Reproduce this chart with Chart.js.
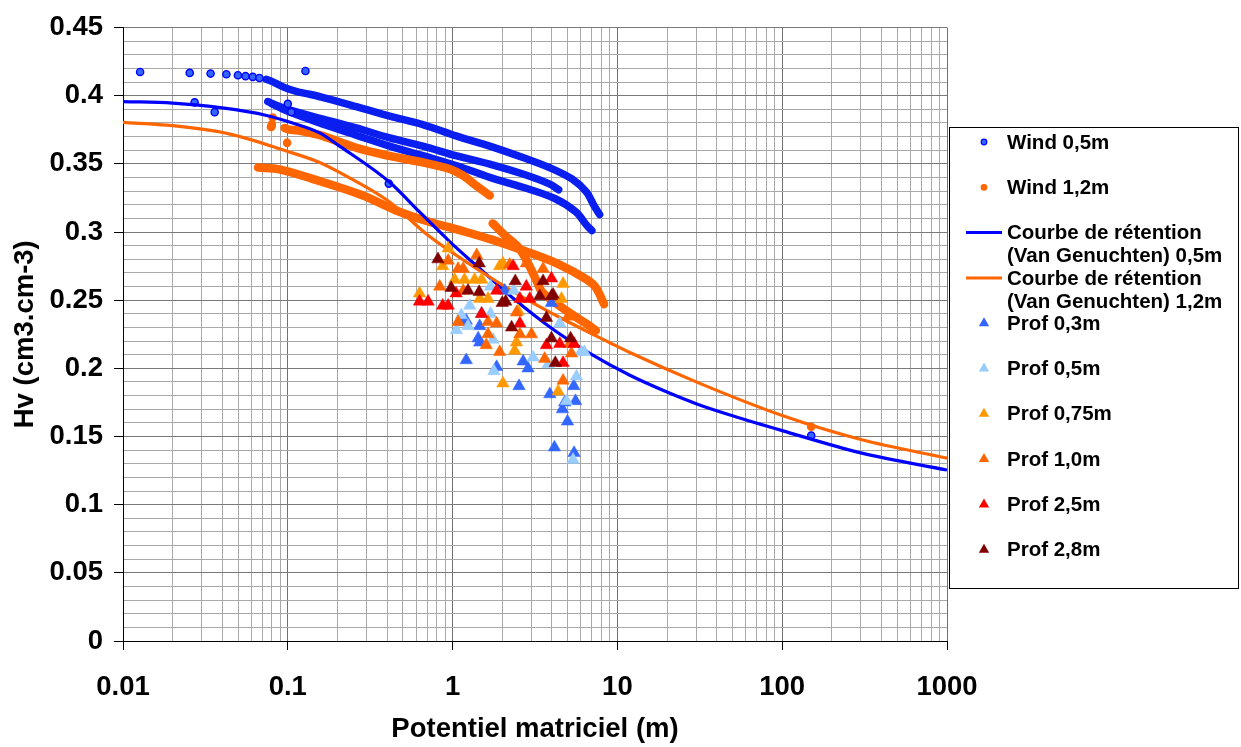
<!DOCTYPE html>
<html lang="fr">
<head>
<meta charset="utf-8">
<title>Courbes de rétention</title>
<script src="https://cdn.jsdelivr.net/npm/chart.js@4.4.1/dist/chart.umd.min.js"></script>
<style>
  html, body { margin: 0; padding: 0; background: #fff; }
  #wrap { width: 1241px; height: 747px; }
</style>
</head>
<body>
<div id="wrap"><canvas id="retentionChart" width="1241" height="747"></canvas></div>
<script>
/* Retention curves — measured points vs Van Genuchten fits */

// ── Axes ───────────────────────────────────────────────────────
const xTickValues = [0.01, 0.1, 1, 10, 100, 1000];
const xTickLabels = ['0.01', '0.1', '1', '10', '100', '1000'];
const yTickValues = [0, 0.05, 0.1, 0.15, 0.2, 0.25, 0.3, 0.35, 0.4, 0.45];
const yTickLabels = ['0', '0.05', '0.1', '0.15', '0.2', '0.25', '0.3', '0.35', '0.4', '0.45'];

// ── Wind 0,5m (potential m, Hv) ────────────────────────────────
const wind05Loose = [
  [0.0127, 0.4174], [0.0254, 0.4167], [0.034, 0.4162], [0.0424, 0.4157], [0.0498, 0.415],
  [0.0554, 0.4143], [0.0613, 0.4138], [0.0673, 0.413], [0.128, 0.4181], [0.0272, 0.3951],
  [0.036, 0.3879], [0.1, 0.394], [0.105, 0.388], [0.41, 0.3355], [150, 0.1507],
];
const wind05A = [
  [0.074, 0.412], [0.08, 0.4105], [0.089, 0.4077], [0.1, 0.405], [0.115, 0.4028], [0.13, 0.4015],
  [0.16, 0.399], [0.26, 0.392], [0.415, 0.385], [0.66, 0.3788], [1.06, 0.3703], [1.68, 0.363],
  [2.67, 0.3546], [3.86, 0.3473], [5.3, 0.3389], [6.5, 0.3292], [7.2, 0.3196], [7.8, 0.3128],
];
const wind05B = [
  [0.0756, 0.3957], [0.085, 0.393], [0.102, 0.3896], [0.164, 0.3828], [0.26, 0.3763], [0.415, 0.369],
  [0.66, 0.363], [1.06, 0.3558], [1.68, 0.3498], [2.67, 0.3425], [3.86, 0.3353], [4.4, 0.331],
];
const wind05C = [
  [0.08, 0.394], [0.1, 0.3885], [0.164, 0.379], [0.26, 0.371], [0.415, 0.363], [0.66, 0.356],
  [1.06, 0.3486], [1.68, 0.3401], [2.67, 0.3328], [4.2, 0.3244], [5.6, 0.3147], [6.5, 0.305], [7.0, 0.301],
];

// ── Wind 1,2m ──────────────────────────────────────────────────
const wind12Loose = [
  [0.081, 0.384], [0.0797, 0.3775], [0.08, 0.379], [0.079, 0.377], [0.099, 0.3654], [150, 0.1572],
];
const wind12D = [
  [0.0955, 0.3763], [0.102, 0.3751], [0.112, 0.3746], [0.123, 0.3739], [0.142, 0.3722], [0.164, 0.3703],
  [0.26, 0.3618], [0.415, 0.3558], [0.66, 0.351], [0.96, 0.3462], [1.16, 0.3413], [1.39, 0.334], [1.68, 0.3268],
];
const wind12E = [
  [0.066, 0.3473], [0.089, 0.346], [0.141, 0.339], [0.283, 0.327], [0.45, 0.316], [0.72, 0.3075],
  [1.1, 0.3014], [1.75, 0.2942], [2.79, 0.2857], [4.45, 0.2761], [6.5, 0.2652], [7.4, 0.2592], [8.3, 0.2471],
];
const wind12F = [
  [1.75, 0.3063], [2.1, 0.297], [2.52, 0.2884], [2.9, 0.276], [3.24, 0.2638], [3.5, 0.2558],
  [4.91, 0.2422], [6.5, 0.2326], [7.4, 0.2278],
];

// ── Van Genuchten fits ─────────────────────────────────────────
const vg05 = [
  [0.01, 0.3957], [0.02, 0.3945], [0.04, 0.391], [0.0744, 0.3855], [0.1, 0.381], [0.156, 0.3727],
  [0.206, 0.363], [0.415, 0.3365], [0.63, 0.3147], [0.96, 0.293], [1.53, 0.271], [2.3, 0.252],
  [4.27, 0.2268], [6.8, 0.2109], [11.9, 0.1949], [20, 0.1826], [30.3, 0.1739], [50, 0.1652],
  [100, 0.1543], [300, 0.138], [1000, 0.1254],
];
const vg12 = [
  [0.01, 0.3804], [0.02, 0.378], [0.044, 0.372], [0.098, 0.3594], [0.156, 0.351], [0.206, 0.3437],
  [0.415, 0.322], [0.706, 0.2978], [1.52, 0.2703], [2.55, 0.2536], [4.66, 0.2362], [9.0, 0.2188],
  [11.9, 0.2116], [30.3, 0.1899], [101, 0.1652], [300, 0.1478], [1000, 0.1341],
];

// ── Field probes ───────────────────────────────────────────────
const prof03 = [
  [1.12, 0.234], [1.21, 0.235], [1.21, 0.206], [1.43, 0.222], [1.46, 0.231], [1.5, 0.24], [1.46, 0.219],
  [1.85, 0.201], [2.07, 0.257], [2.53, 0.187], [2.68, 0.205], [2.87, 0.2], [3.89, 0.181], [3.98, 0.248],
  [4.15, 0.142], [4.64, 0.17], [4.79, 0.175], [4.98, 0.161], [5.44, 0.187], [5.46, 0.138], [5.57, 0.176],
];
const prof05 = [
  [1.055, 0.228], [1.13, 0.239], [1.27, 0.246], [1.24, 0.231], [1.7, 0.26], [1.7, 0.24], [1.76, 0.221],
  [1.78, 0.198], [2.35, 0.257], [3.08, 0.208], [3.8, 0.203], [4.47, 0.233], [4.91, 0.176], [5.65, 0.194],
  [5.38, 0.133], [6.0, 0.212], [6.3, 0.212],
];
const prof075 = [
  [0.63, 0.255], [0.87, 0.275], [0.94, 0.288], [1.03, 0.265], [1.18, 0.265], [1.36, 0.265], [1.5, 0.265],
  [1.46, 0.251], [1.64, 0.251], [1.93, 0.275], [2.02, 0.277], [2.02, 0.189], [2.38, 0.213], [2.44, 0.219],
  [2.5, 0.242], [4.37, 0.183], [4.58, 0.251], [4.68, 0.262],
];
const prof10 = [
  [0.835, 0.26], [0.94, 0.279], [1.08, 0.273], [1.16, 0.273], [1.16, 0.257], [1.08, 0.234], [1.4, 0.283],
  [1.6, 0.217], [1.64, 0.234], [1.64, 0.225], [1.85, 0.233], [1.93, 0.212], [2.22, 0.276], [2.44, 0.241],
  [2.56, 0.225], [2.8, 0.277], [3.01, 0.225], [3.54, 0.273], [3.62, 0.207], [4.68, 0.191], [5.02, 0.238],
  [5.14, 0.218], [5.26, 0.211],
];
const prof25 = [
  [0.63, 0.249], [0.71, 0.249], [0.87, 0.246], [0.94, 0.246], [1.05, 0.255], [1.5, 0.24], [1.85, 0.257],
  [2.33, 0.275], [2.56, 0.251], [2.56, 0.233], [2.8, 0.26], [2.94, 0.251], [3.98, 0.266], [3.71, 0.217],
  [4.47, 0.218], [4.68, 0.204], [5.46, 0.218],
];
const prof28 = [
  [0.815, 0.28], [0.98, 0.259], [1.24, 0.257], [1.45, 0.277], [1.45, 0.256], [2.0, 0.248], [2.1, 0.249],
  [2.28, 0.23], [2.4, 0.264], [3.38, 0.253], [3.54, 0.264], [3.71, 0.237], [3.98, 0.253], [4.07, 0.254],
  [3.98, 0.222], [4.2, 0.204], [5.2, 0.222],
];

const FONT = "'Liberation Sans', Arial, sans-serif";
const toXY = pts => pts.map(([x, y]) => ({ x, y }));
const sameVal = (a, b) => Math.abs(a - b) < 1e-9 + Math.abs(b) * 1e-6;

// ── Dataset builders ───────────────────────────────────────────
function dots(pts, fill, stroke, legendText) {
  return {
    data: toXY(pts), showLine: false, legendText,
    pointStyle: 'circle', pointRadius: 3.6, pointBorderWidth: 1.4,
    pointBackgroundColor: fill, pointBorderColor: stroke,
  };
}
function band(pts, color, width) {
  return {
    data: toXY(pts), showLine: true, borderColor: color, borderWidth: width,
    borderCapStyle: 'round', borderJoinStyle: 'round', tension: 0.35, pointRadius: 0,
  };
}
function fit(pts, color, legendText) {
  return {
    data: toXY(pts), showLine: true, borderColor: color, borderWidth: 3.2,
    cubicInterpolationMode: 'monotone', pointRadius: 0, legendText, legendLine: true,
  };
}
function probe(pts, color, legendText) {
  return {
    data: toXY(pts), showLine: false, legendText,
    pointStyle: 'triangle', pointRadius: 7.2, pointBorderWidth: 0.5,
    pointBackgroundColor: color, pointBorderColor: color,
  };
}

const datasets = [
  band(wind05A, '#0a1ef0', 7.5),
  band(wind05B, '#0a1ef0', 7.5),
  band(wind05C, '#0a1ef0', 7.5),
  dots(wind05Loose, '#3366ff', '#0000ff', ['Wind 0,5m']),
  band(wind12D, '#ff6600', 8.5),
  band(wind12E, '#ff6600', 8.5),
  band(wind12F, '#ff6600', 8.5),
  dots(wind12Loose, '#ff6600', '#ff6600', ['Wind 1,2m']),
  fit(vg05, '#0000ff', ['Courbe de rétention', '(Van Genuchten) 0,5m']),
  fit(vg12, '#ff6600', ['Courbe de rétention', '(Van Genuchten) 1,2m']),
  probe(prof03, '#3366ff', ['Prof 0,3m']),
  probe(prof05, '#99ccff', ['Prof 0,5m']),
  probe(prof075, '#ff9900', ['Prof 0,75m']),
  probe(prof10, '#ff6600', ['Prof 1,0m']),
  probe(prof25, '#ff0000', ['Prof 2,5m']),
  probe(prof28, '#800000', ['Prof 2,8m']),
];
// later series are painted over earlier ones
datasets.forEach((d, i) => { d.order = datasets.length - i; });

// ── Boxed legend on the right ──────────────────────────────────
const retentionLegend = {
  id: 'retentionLegend',
  afterDraw(chart, args, o) {
    const ctx = chart.ctx;
    ctx.save();
    ctx.strokeStyle = '#000';
    ctx.lineWidth = 1;
    ctx.strokeRect(o.x, o.y, o.w, o.h);
    ctx.font = o.font;
    ctx.textBaseline = 'middle';
    ctx.textAlign = 'left';
    let row = 0;
    chart.data.datasets.forEach(ds => {
      if (!ds.legendText) return;
      const cy = o.firstRow + row * o.rowStep;
      if (ds.legendLine) {
        ctx.strokeStyle = ds.borderColor;
        ctx.lineWidth = 3;
        ctx.beginPath();
        ctx.moveTo(o.markerX - 18, cy);
        ctx.lineTo(o.markerX + 18, cy);
        ctx.stroke();
      } else if (ds.pointStyle === 'triangle') {
        const r = 6;
        ctx.fillStyle = ds.pointBackgroundColor;
        ctx.beginPath();
        ctx.moveTo(o.markerX, cy - r);
        ctx.lineTo(o.markerX + r * 0.866, cy + r / 2);
        ctx.lineTo(o.markerX - r * 0.866, cy + r / 2);
        ctx.closePath();
        ctx.fill();
      } else {
        ctx.fillStyle = ds.pointBackgroundColor;
        ctx.strokeStyle = ds.pointBorderColor;
        ctx.lineWidth = 1.2;
        ctx.beginPath();
        ctx.arc(o.markerX, cy, 2.8, 0, Math.PI * 2);
        ctx.fill();
        ctx.stroke();
      }
      ctx.fillStyle = '#000';
      ds.legendText.forEach((t, i) => ctx.fillText(t, o.textX, cy + 1 + i * o.lineStep));
      row++;
    });
    ctx.restore();
  },
};

// ── Chart ──────────────────────────────────────────────────────
const tickFont = { family: FONT, size: 27.5, weight: 'bold' };
const isMajorX = v => xTickValues.some(t => sameVal(v, t));
const isMajorY = v => yTickValues.some(t => sameVal(v, t));

new Chart(document.getElementById('retentionChart'), {
  type: 'scatter',
  data: { datasets },
  plugins: [retentionLegend],
  options: {
    responsive: false,
    animation: false,
    layout: { padding: { left: 0, right: 294, top: 20, bottom: 0 } },
    plugins: {
      legend: { display: false },
      tooltip: { enabled: false },
      retentionLegend: {
        x: 949.5, y: 127.5, w: 289, h: 461,
        firstRow: 142, rowStep: 45.3, lineStep: 23,
        markerX: 984, textX: 1007,
        font: `bold 20.5px ${FONT}`,
      },
    },
    scales: {
      x: {
        type: 'logarithmic',
        min: 0.01,
        max: 1000,
        afterFit: s => { s.height = 106; },
        afterBuildTicks: s => {
          const ticks = [];
          xTickValues.forEach((d, i) => {
            const last = i === xTickValues.length - 1;
            for (let m = 1; m <= (last ? 1 : 9); m++) {
              ticks.push({ value: +(d * m).toPrecision(6), major: m === 1 });
            }
          });
          s.ticks = ticks;
        },
        border: { color: '#000', width: 1 },
        grid: {
          color: c => (isMajorX(c.tick.value) ? '#707070' : '#a8a8a8'),
          tickColor: c => (isMajorX(c.tick.value) ? '#000' : 'rgba(0,0,0,0)'),
          tickLength: 9,
        },
        ticks: {
          autoSkip: false,
          maxRotation: 0,
          padding: 21,
          color: '#000',
          font: tickFont,
          callback: v => {
            const i = xTickValues.findIndex(t => sameVal(v, t));
            return i >= 0 ? xTickLabels[i] : '';
          },
        },
        title: {
          display: true,
          text: 'Potentiel matriciel (m)',
          color: '#000',
          font: tickFont,
          padding: { top: 0, bottom: 1 },
        },
      },
      y: {
        min: 0,
        max: 0.45,
        afterFit: s => { s.width = 123; },
        afterBuildTicks: s => {
          const ticks = [];
          for (let i = 0; i <= 45; i++) ticks.push({ value: i / 100 });
          s.ticks = ticks;
        },
        border: { color: '#000', width: 1 },
        grid: {
          color: c => (isMajorY(c.tick.value) ? '#7a7a7a' : '#a8a8a8'),
          tickColor: c => (isMajorY(c.tick.value) ? '#000' : 'rgba(0,0,0,0)'),
          tickLength: 9,
        },
        ticks: {
          autoSkip: false,
          padding: 11,
          color: '#000',
          font: tickFont,
          callback: v => {
            const i = yTickValues.findIndex(t => sameVal(v, t));
            return i >= 0 ? yTickLabels[i] : '';
          },
        },
        title: {
          display: true,
          text: 'Hv (cm3.cm-3)',
          color: '#000',
          font: tickFont,
          padding: { top: 9, bottom: 0 },
        },
      },
    },
  },
});
</script>
</body>
</html>
